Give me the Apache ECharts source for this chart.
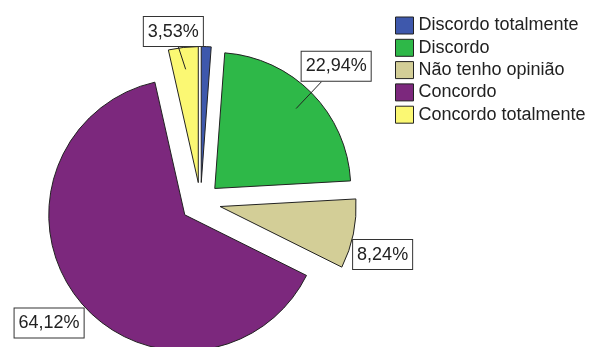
<!DOCTYPE html>
<html>
<head>
<meta charset="utf-8">
<script src="https://cdn.jsdelivr.net/npm/echarts@6/dist/echarts.min.js"></script>
<style>
  html, body { margin: 0; padding: 0; background: #fff; }
  #chart { width: 595px; height: 347px; }
</style>
</head>
<body>
<div id="chart"></div>
<script>
// Answer categories and their shares (%)
const categories = ['Discordo totalmente', 'Discordo', 'Não tenho opinião', 'Concordo', 'Concordo totalmente'];
const percentages = [1.17, 22.94, 8.24, 64.12, 3.53];
const sliceColors = ['#3E58AC', '#2EB848', '#D3CE97', '#7C287D', '#FBF873'];

// Layout of the pie and of the boxed percentage labels
const pieCenter = [200.5, 202.5];
const pieRadius = 136;
const explode = 20;
const labelReach = [0, 57, 53, 59, 37];      // distance of each box centre past the rim
const labelNudge = [[0, 0], [-2, -1], [-3, 14], [2, 0], [-8, 1]];
const labelVisible = [false, true, true, true, true];
const leaderVisible = [false, true, false, false, true];

const FONT = 'Arial, "Liberation Sans", sans-serif';
const fmt = v => v.toFixed(2).replace('.', ',') + '%';

const chart = echarts.init(document.getElementById('chart'), null, { renderer: 'canvas' });

const sliceStyle = { borderColor: '#222', borderWidth: 1 };

const slices = categories.map((name, i) => ({
  name,
  value: percentages[i],
  selected: true,
  itemStyle: { color: sliceColors[i] }
}));

const labelItems = categories.map((name, i) => ({
  name,
  value: percentages[i],
  label: { show: labelVisible[i] },
  labelLine: {
    show: labelVisible[i],
    length: labelReach[i],
    lineStyle: { opacity: leaderVisible[i] ? 1 : 0 }
  }
}));

chart.setOption({
  animation: false,
  backgroundColor: '#fff',
  legend: {
    orient: 'vertical',
    left: 395,
    top: 16.5,
    padding: 0,
    itemWidth: 18,
    itemHeight: 17,
    itemGap: 4.3,
    icon: 'rect',
    selectedMode: false,
    data: categories,
    itemStyle: { borderColor: '#222', borderWidth: 1 },
    textStyle: { fontFamily: FONT, fontSize: 18, lineHeight: 18, color: '#222' }
  },
  series: [
    {
      // exploded slices
      type: 'pie',
      z: 2,
      center: pieCenter,
      radius: pieRadius,
      startAngle: 90,
      clockwise: true,
      selectedMode: 'multiple',
      selectedOffset: explode,
      avoidLabelOverlap: false,
      label: { show: false },
      labelLine: { show: false },
      itemStyle: sliceStyle,
      select: { itemStyle: sliceStyle, label: { show: false }, labelLine: { show: false } },
      emphasis: { disabled: true },
      data: slices
    },
    {
      // boxed value labels with leader lines, drawn above the slices
      type: 'pie',
      z: 5,
      center: pieCenter,
      radius: pieRadius,
      startAngle: 90,
      clockwise: true,
      silent: true,
      selectedMode: false,
      avoidLabelOverlap: false,
      minShowLabelAngle: 0,
      itemStyle: { color: 'rgba(0,0,0,0)', borderWidth: 0 },
      emphasis: { disabled: true },
      label: {
        position: 'outside',
        formatter: p => fmt(p.value),
        fontFamily: FONT,
        fontSize: 18,
        lineHeight: 20,
        color: '#222',
        backgroundColor: '#fff',
        borderColor: '#333',
        borderWidth: 1,
        padding: [5, 4, 4, 4]
      },
      labelLine: {
        length2: 1,
        minTurnAngle: 0,
        lineStyle: { color: '#222', width: 1 }
      },
      labelLayout: function (p) {
        const pts = p.labelLinePoints;
        if (!pts) return {};
        const i = p.dataIndex;
        const a = pts[0];
        const ux0 = a[0] - pieCenter[0], uy0 = a[1] - pieCenter[1];
        const l0 = Math.hypot(ux0, uy0);
        const ux = ux0 / l0, uy = uy0 / l0;
        const cx = a[0] + ux * labelReach[i] + labelNudge[i][0];
        const cy = a[1] + uy * labelReach[i] + labelNudge[i][1];
        // leader runs from inside the slice toward the box and stops at its edge
        const sx = a[0] - ux * 2, sy = a[1] - uy * 2;
        const vx0 = cx - sx, vy0 = cy - sy;
        const vl = Math.hypot(vx0, vy0);
        const vx = vx0 / vl, vy = vy0 / vl;
        const hw = p.labelRect.width / 2, hh = p.labelRect.height / 2;
        const t = Math.min(hw / Math.max(Math.abs(vx), 1e-6), hh / Math.max(Math.abs(vy), 1e-6));
        return {
          x: cx,
          y: cy,
          align: 'center',
          verticalAlign: 'middle',
          labelLinePoints: [[sx, sy], [cx - vx * t, cy - vy * t]]
        };
      },
      data: labelItems
    }
  ]
});
</script>
</body>
</html>
